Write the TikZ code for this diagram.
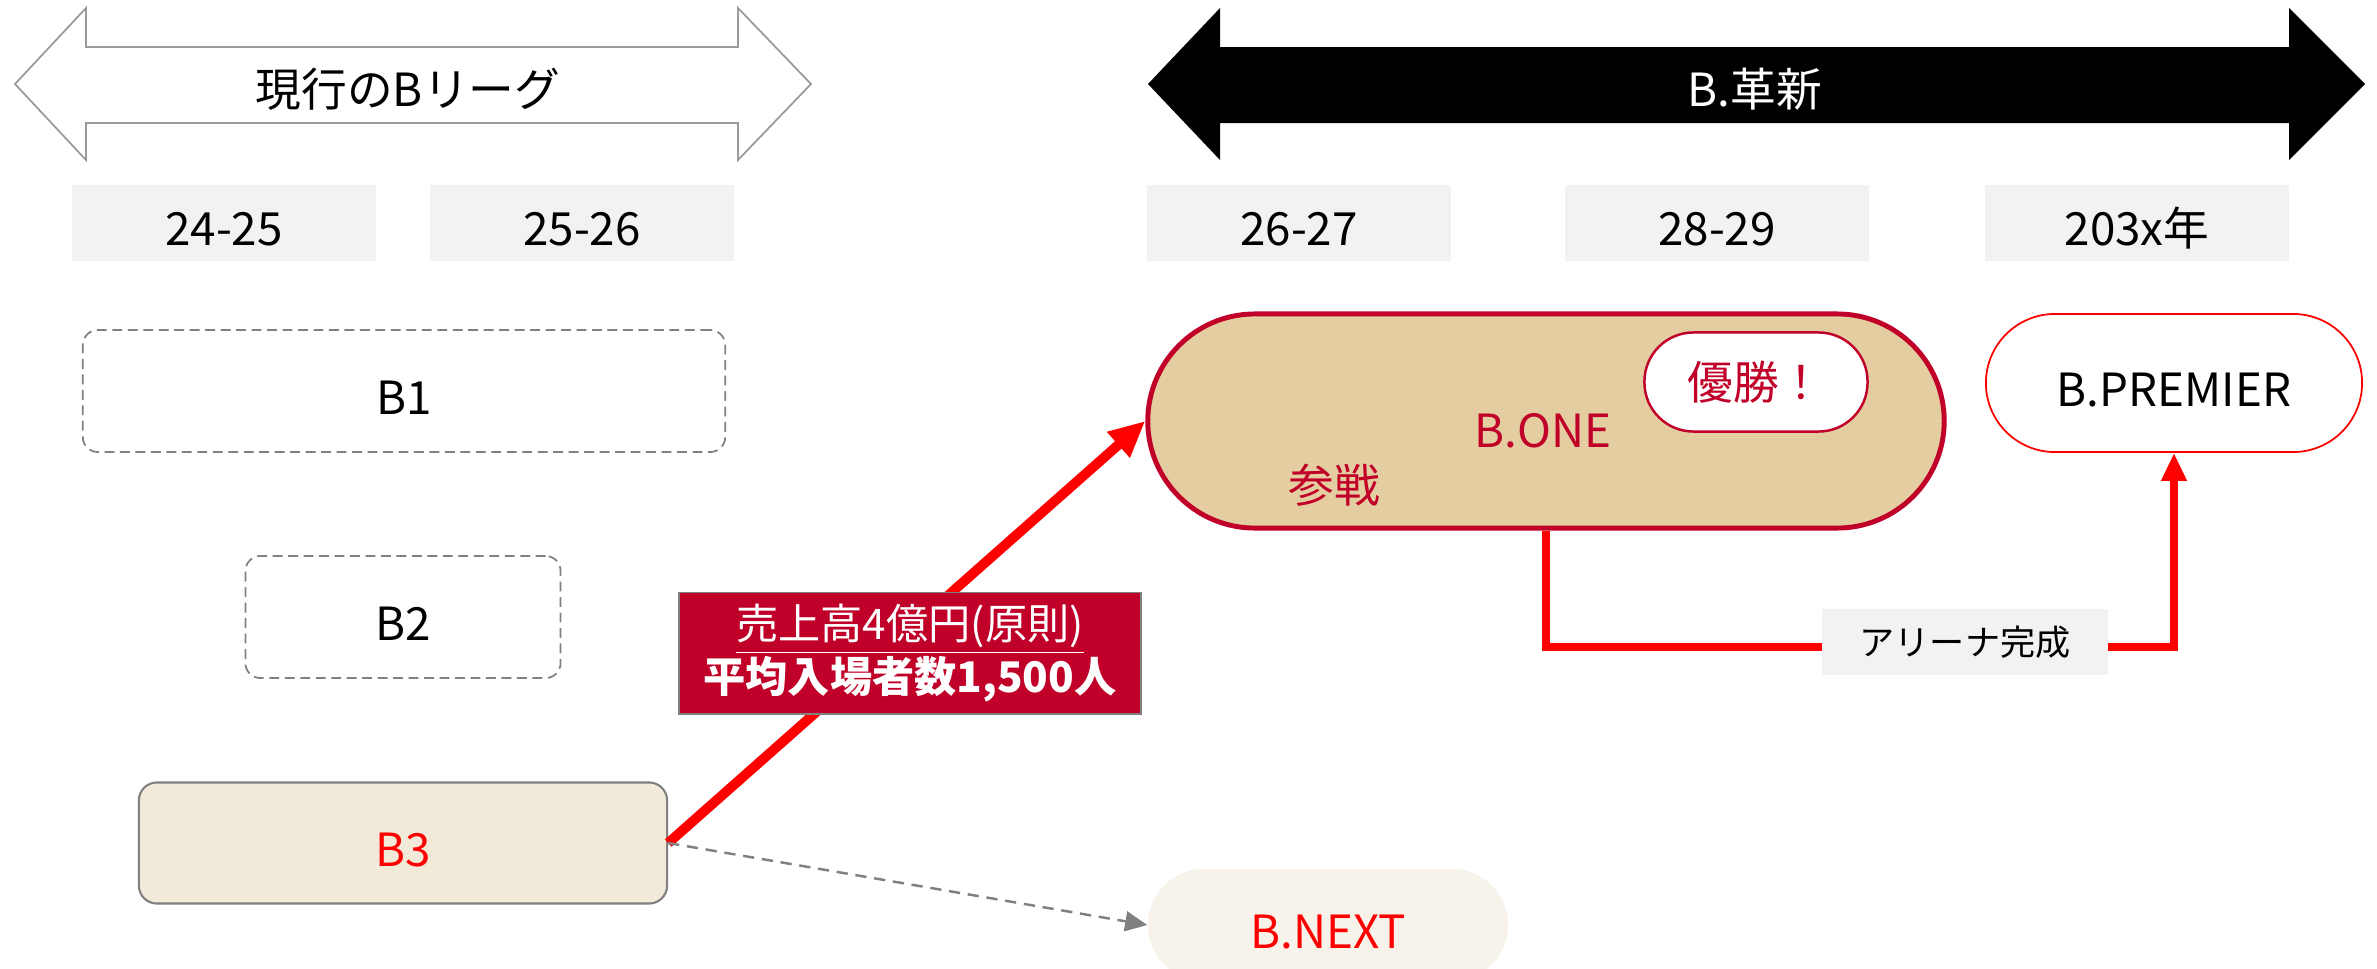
\documentclass[tikz,border=0pt]{standalone}
\usepackage{fontspec}
\setmainfont{Noto Sans CJK JP}
\usetikzlibrary{arrows.meta}

\definecolor{crimson}{RGB}{192,0,40}
\definecolor{tanfill}{RGB}{228,205,160}
\definecolor{beige}{RGB}{242,234,216}
\definecolor{paleBeige}{RGB}{248,243,234}
\definecolor{boxgray}{RGB}{242,242,242}
\definecolor{linegray}{RGB}{128,128,128}

\tikzset{
  lowtext/.style={text height=#1,text depth=0pt},
  lowtext/.default=0.46cm,
  yearbox/.style={fill=boxgray,minimum width=3.03cm,minimum height=0.76cm,lowtext=0.44cm,
    font=\fontsize{13}{15}\selectfont},
  oldleague/.style={draw=linegray,line width=0.5pt,dash pattern=on 2.8pt off 1.6pt,
    rounded corners=0.15cm,minimum height=1.22cm,lowtext,font=\fontsize{13}{15}\selectfont},
  stadium/.style={minimum width=#1,font=\fontsize{13}{15}\selectfont},
  redline/.style={red,line width=#1},
  redline/.default=2.4pt,
}

\begin{document}
\begin{tikzpicture}[x=0.01cm,y=-0.01cm]
  \clip (0,0) rectangle (2377,969);

  % timeline arrows
  \draw[linegray!80,line width=0.5pt,fill=white] (15,84) -- (86,8) -- (86,47) -- (738,47) -- (738,8)
    -- (811,84) -- (738,160) -- (738,123) -- (86,123) -- (86,160) -- cycle;
  \node[font=\fontsize{13}{15}\selectfont,lowtext=0.4cm] (curtitle) at (408,86) {現行のBリーグ};
  \fill[black] (1148,84) -- (1220,8) -- (1220,47) -- (2289,47) -- (2289,8)
    -- (2365,84) -- (2289,160) -- (2289,123) -- (1220,123) -- (1220,160) -- cycle;
  \node[white,font=\fontsize{13}{15}\selectfont,lowtext=0.4cm] (newtitle) at (1755,86) {B.革新};

  % seasons
  \node[yearbox] (y1) at (224,223) {24-25};
  \node[yearbox] (y2) at (582,223) {25-26};
  \node[yearbox] (y3) at (1299,223) {26-27};
  \node[yearbox] (y4) at (1717,223) {28-29};
  \node[yearbox] (y5) at (2137,223) {203x年};

  % current league
  \node[oldleague,minimum width=6.42cm] (b1) at (404,391) {B1};
  \node[oldleague,minimum width=3.15cm] (b2) at (403,617) {B2};
  \node[draw=linegray,line width=0.6pt,fill=beige,rounded corners=0.18cm,
    minimum width=5.28cm,minimum height=1.21cm,text=red,lowtext,
    font=\fontsize{13}{15}\selectfont] (b3) at (403,843) {B3};

  % new league
  \node[stadium=7.96cm,minimum height=2.14cm,rounded corners=1.07cm,fill=tanfill,
    draw=crimson,line width=1.4pt,text=crimson] (bone) at (1546,421) {};
  \node[text=crimson,font=\fontsize{13}{15}\selectfont,lowtext] (bonelabel) at (1543,424) {B.ONE};
  \node[text=crimson,font=\fontsize{13}{15}\selectfont] (join) at (1334,485) {参戦};
  \node[stadium=2.23cm,minimum height=0.99cm,rounded corners=0.49cm,fill=white,
    draw=crimson,line width=0.7pt,text=crimson] (win) at (1756,382) {優勝！};
  \node[stadium=3.76cm,minimum height=1.38cm,rounded corners=0.69cm,fill=white,
    draw=red,line width=0.5pt,lowtext] (bpremier) at (2174,383) {B.PREMIER};
  \node[stadium=3.6cm,minimum height=1.12cm,rounded corners=0.56cm,fill=paleBeige,
    text=red,lowtext] (bnext) at (1328,925) {B.NEXT};

  % promotion
  \draw[redline=2.8pt,-{Triangle[length=0.36cm,width=0.32cm]}] (b3.east) -- (bone.west);
  \draw[linegray,line width=0.7pt,dash pattern=on 3.2pt off 2.2pt,
    -{Triangle[length=0.22cm,width=0.2cm]}] (b3.east) -- (bnext.west);
  \node[draw=linegray,line width=0.5pt,fill=crimson,text=white,align=center,
    minimum width=4.61cm,minimum height=1.18cm,
    font=\fontsize{12}{15}\selectfont] (terms) at (910,653)
    {\underline{売上高4億円(原則)}\\\textbf{平均入場者数1,500人}};

  \coordinate (turn) at (1546,647);
  \draw[redline,-{Triangle[length=0.28cm,width=0.24cm]}] (bone.south) -- (turn) -| (bpremier.south);
  \node[fill=boxgray,minimum width=2.85cm,minimum height=0.66cm,
    font=\fontsize{10}{12}\selectfont] (arena) at (1965,642) {アリーナ完成};
\end{tikzpicture}
\end{document}
